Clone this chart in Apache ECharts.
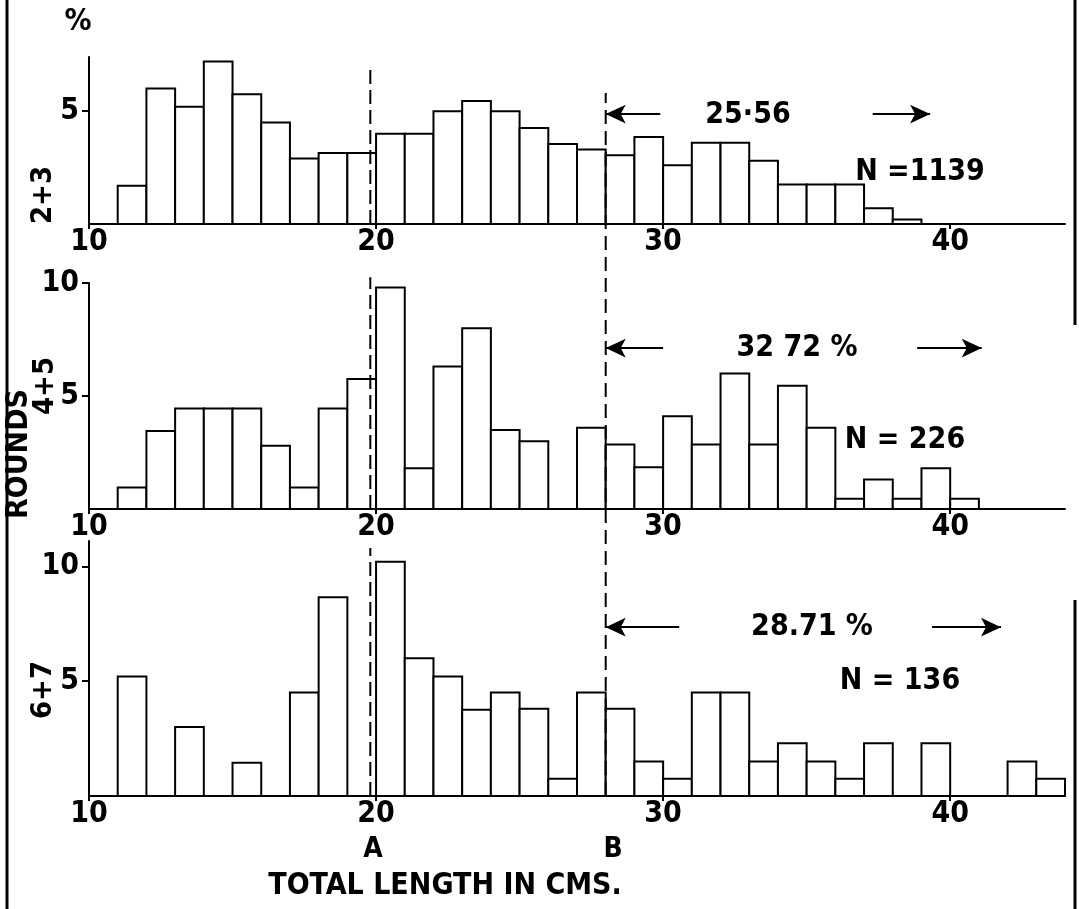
<!DOCTYPE html>
<html>
<head>
<meta charset="utf-8">
<script src="https://cdn.jsdelivr.net/npm/echarts@6/dist/echarts.min.js"></script>
<style>
    html, body {margin: 0; padding: 0; background: #fff;}
    #chart {width: 1079px; height: 909px;}
</style>
</head>
<body>
<div id="chart"></div>
<script>
// bins are 1 cm wide, first bin starts at 11 cm
const binStart = 11;
const rounds23 = [1.7, 6.0, 5.2, 7.2, 5.75, 4.5, 2.9, 3.15, 3.15, 4.0, 4.0, 5.0, 5.45, 5.0,
    4.25, 3.55, 3.3, 3.05, 3.85, 2.6, 3.6, 3.6, 2.8, 1.75, 1.75, 1.75, 0.7, 0.2];
const rounds45 = [0.95, 3.45, 4.45, 4.45, 4.45, 2.8, 0.95, 4.45, 5.75, 9.8, 1.8, 6.3, 8.0, 3.5,
    3.0, 0, 3.6, 2.85, 1.85, 4.1, 2.85, 6.0, 2.85, 5.45, 3.6, 0.45, 1.3, 0.45, 1.8, 0.45];
const rounds67 = [5.2, 0, 3.0, 0, 1.45, 0, 4.5, 8.65, 0, 10.2, 6.0, 5.2, 3.75, 4.5,
    3.8, 0.75, 4.5, 3.8, 1.5, 0.75, 4.5, 4.5, 1.5, 2.3, 1.5, 0.75, 2.3, 0, 2.3, 0, 0, 1.5, 0.75];

const panelNames = ['2+3', '4+5', '6+7'];
const percentText = ['25·56', '32 72 %', '28.71 %'];
const countText = ['N =1139', 'N = 226', 'N = 136'];
const xTicks = [10, 20, 30, 40];
const yMax = [7.4, 10, 11.1];
const yTicks = [[5], [5, 10], [5, 10]];

const lineA = 19.8;
const lineB = 28;
const lineATop = [6.9, 10.25, 10.8];
// arrows: [from, to, height]
const arrows = [
    [[29.9, 28, 4.87], [37.3, 39.3, 4.87]],
    [[30.0, 28, 7.12], [38.85, 41.1, 7.12]],
    [[30.56, 28, 7.35], [39.37, 41.77, 7.35]]
];

const font = "'DejaVu Sans Condensed', 'Liberation Sans Narrow', 'DejaVu Sans', sans-serif";
const gridPos = [
    {left: 89, right: 14, top: 57, height: 167},
    {left: 89, right: 14, top: 283, height: 226},
    {left: 89, right: 14, top: 541, height: 255}
];

function toBins(values) {
    return values.map((v, i) => [binStart + i, binStart + i + 1, v]);
}

function renderBar(params, api) {
    const v = api.value(2);
    if (!v) return null;
    const p0 = api.coord([api.value(0), v]);
    const p1 = api.coord([api.value(1), 0]);
    return {
        type: 'rect',
        shape: {x: p0[0], y: p0[1], width: p1[0] - p0[0], height: p1[1] - p0[1]},
        style: {fill: '#fff', stroke: '#000', lineWidth: 2}
    };
}

const chart = echarts.init(document.getElementById('chart'));

const grids = [];
const xAxes = [];
const yAxes = [];
const series = [];
const allData = [rounds23, rounds45, rounds67];

for (let i = 0; i < 3; i++) {
    grids.push(gridPos[i]);
    xAxes.push({
        gridIndex: i, type: 'value', min: 10, max: 44, interval: 10,
        axisLine: {lineStyle: {color: '#000', width: 2}},
        axisTick: {show: true, length: 5, customValues: xTicks, lineStyle: {color: '#000', width: 2}},
        axisLabel: {
            color: '#000', fontSize: 30, fontWeight: 'bold', fontFamily: font, margin: 3,
            customValues: xTicks
        },
        splitLine: {show: false}
    });
    yAxes.push({
        gridIndex: i, type: 'value', min: 0, max: yMax[i],
        axisLine: {show: true, lineStyle: {color: '#000', width: 2}},
        axisTick: {show: true, length: 7, customValues: yTicks[i], lineStyle: {color: '#000', width: 2}},
        axisLabel: {
            color: '#000', fontSize: 30, fontWeight: 'bold', fontFamily: font, margin: 10,
            customValues: yTicks[i]
        },
        splitLine: {show: false}
    });
    series.push({
        type: 'custom',
        xAxisIndex: i, yAxisIndex: i,
        renderItem: renderBar,
        encode: {x: [0, 1], y: 2},
        data: toBins(allData[i]),
        z: 3,
        markLine: {
            silent: true,
            animation: false,
            lineStyle: {color: '#000', width: 2, type: 'solid'},
            label: {show: false},
            symbolSize: [14, 20],
            data: arrows[i].map(a => [
                {coord: [a[0], a[2]], symbol: 'none'},
                {coord: [a[1], a[2]], symbol: 'arrow'}
            ])
        }
    });
    // dashed line A
    series.push({
        type: 'line',
        xAxisIndex: i, yAxisIndex: i,
        data: [[lineA, 0], [lineA, lineATop[i]]],
        symbol: 'none', clip: false, z: 4,
        lineStyle: {color: '#000', width: 2, type: [14, 6]}
    });
}

// full-height grid for dashed line B
grids.push({left: 89, right: 14, top: 93, bottom: 113});
xAxes.push({gridIndex: 3, type: 'value', min: 10, max: 44, show: false});
yAxes.push({gridIndex: 3, type: 'value', min: 0, max: 1, show: false});
series.push({
    type: 'line', xAxisIndex: 3, yAxisIndex: 3,
    data: [[lineB, 0], [lineB, 1]],
    symbol: 'none', z: 4,
    lineStyle: {color: '#000', width: 2, type: [14, 7]}
});

const textStyle = (txt, size) => ({
    text: txt, fill: '#000', fontSize: size, fontWeight: 'bold', fontFamily: font,
    align: 'center', verticalAlign: 'middle'
});

const graphic = [
    {type: 'line', shape: {x1: 7, y1: 0, x2: 7, y2: 909}, style: {stroke: '#000', lineWidth: 3}},
    {type: 'line', shape: {x1: 1075, y1: 0, x2: 1075, y2: 325}, style: {stroke: '#000', lineWidth: 3}},
    {type: 'line', shape: {x1: 1075, y1: 600, x2: 1075, y2: 909}, style: {stroke: '#000', lineWidth: 3}},
    {type: 'text', x: 78, y: 22, style: textStyle('%', 30)},
    {type: 'text', x: 43, y: 195, rotation: Math.PI / 2, style: textStyle(panelNames[0], 29)},
    {type: 'text', x: 45, y: 386, rotation: Math.PI / 2, style: textStyle(panelNames[1], 29)},
    {type: 'text', x: 43, y: 690, rotation: Math.PI / 2, style: textStyle(panelNames[2], 29)},
    {type: 'text', x: 19, y: 454, rotation: Math.PI / 2, style: textStyle('ROUNDS', 30)},
    {type: 'text', x: 748, y: 115, style: textStyle(percentText[0], 30)},
    {type: 'text', x: 920, y: 172, style: textStyle(countText[0], 30)},
    {type: 'text', x: 797, y: 348, style: textStyle(percentText[1], 30)},
    {type: 'text', x: 905, y: 440, style: textStyle(countText[1], 30)},
    {type: 'text', x: 812, y: 627, style: textStyle(percentText[2], 30)},
    {type: 'text', x: 900, y: 681, style: textStyle(countText[2], 30)},
    {type: 'text', x: 373, y: 850, style: textStyle('A', 28)},
    {type: 'text', x: 613, y: 850, style: textStyle('B', 28)},
    {type: 'text', x: 445, y: 886, style: textStyle('TOTAL LENGTH IN CMS.', 30)}
];

const option = {
    backgroundColor: '#fff',
    animation: false,
    grid: grids,
    xAxis: xAxes,
    yAxis: yAxes,
    series: series,
    graphic: graphic
};

option && chart.setOption(option);
</script>
</body>
</html>
